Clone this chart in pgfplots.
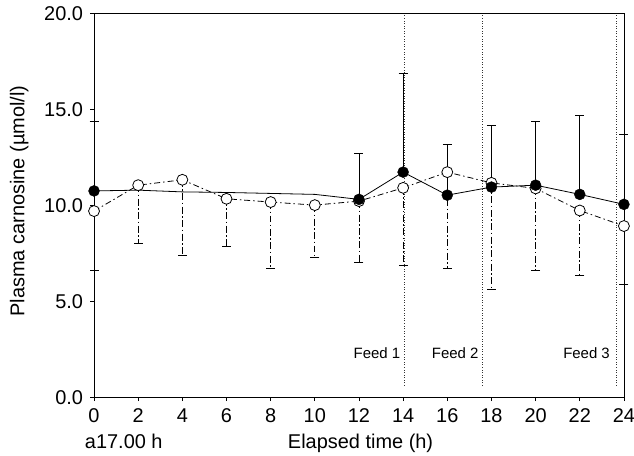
\documentclass[border=0pt]{standalone}
\usepackage{fontspec}
\setmainfont{Liberation Sans}
\usepackage{pgfplots}
\usepackage{pgfplotstable}
\pgfplotsset{compat=1.18}

% line of the filled series (unmarked points 2..10)
\pgfplotstableread{
x y
0 10.75
2 10.79
4 10.70
6 10.67
8 10.62
10 10.57
12 10.31
14 11.73
16 10.53
18 10.95
20 11.05
22 10.57
24 10.05
}\filledline

% filled circles, upper error
\pgfplotstableread{
x y ep
0 10.75 3.63
12 10.31 2.37
14 11.73 5.16
16 10.53 2.64
18 10.95 3.24
20 11.05 3.33
22 10.57 4.12
24 10.05 3.64
}\filledpts

% open circles, lower error
\pgfplotstableread{
x y em
0 9.70 3.07
2 11.05 3.05
4 11.33 3.95
6 10.34 2.46
8 10.17 3.48
10 10.01 2.70
12 10.22 3.22
14 10.91 4.02
16 11.73 5.04
18 11.17 5.56
20 10.88 4.26
22 9.73 3.36
24 8.92 3.03
}\openpts

\begin{document}
\begin{tikzpicture}[font=\fontsize{20bp}{24bp}\selectfont]
\path[use as bounding box] (-94.3bp,-58.7bp) rectangle (541.5bp,398.3bp);
\begin{axis}[
    scale only axis,
    width=531.4bp, height=384.8bp,
    xmin=0, xmax=24, ymin=0, ymax=20,
    xtick={0,2,...,24},
    ytick={0,5,...,20},
    tick pos=left,
    tick align=outside,
    major tick length=4bp,
    axis line style={line width=0.8bp},
    tick style={line width=0.8bp, black},
    clip=false,
    /pgf/number format/assume math mode=true,
    tick label style={font=\fontsize{20bp}{24bp}\selectfont},
    yticklabel style={/pgf/number format/.cd, fixed, fixed zerofill, precision=1, /tikz/.cd, xshift=-3.5bp},
    xticklabel style={yshift=-4bp},
    xlabel={Elapsed time (h)},
    ylabel={Plasma carnosine (µmol/l)},
    xlabel style={at={(axis description cs:0.503,-0.134)}, anchor=base},
    ylabel style={at={(axis description cs:-0.141,0.511)}, anchor=center},
  ]
  % feed markers
  \addplot[dotted, line width=0.6bp, black!80] coordinates {(14.03,0.6) (14.03,20)};
  \addplot[dotted, line width=0.6bp, black!80] coordinates {(17.57,0.6) (17.57,20)};
  \addplot[dotted, line width=0.6bp, black!80] coordinates {(23.67,0.6) (23.67,20)};

  % lines
  \addplot[black, line width=0.8bp, dash pattern=on 6bp off 3bp on 1.5bp off 3bp, no marks] table[x=x, y=y] {\openpts};
  \addplot[black, line width=0.8bp, solid, no marks] table[x=x, y=y] {\filledline};

  % open circles with lower error bars
  \addplot[only marks, mark=*, mark size=5.5bp, mark options={fill=white, draw=black, line width=0.8bp, solid},
    error bars/.cd, y dir=minus, y explicit,
    error bar style={line width=0.8bp, black, dash pattern=on 7bp off 2.5bp on 1.5bp off 2.5bp},
    error mark options={solid, rotate=90, line width=0.8bp, mark size=4.5bp}]
    table[x=x, y=y, y error minus=em] {\openpts};

  % filled circles with upper error bars
  \addplot[only marks, mark=*, mark size=5.5bp, mark options={fill=black, draw=black, solid},
    error bars/.cd, y dir=plus, y explicit,
    error bar style={line width=0.8bp, black, solid},
    error mark options={solid, rotate=90, line width=0.8bp, mark size=4.5bp}]
    table[x=x, y=y, y error plus=ep] {\filledpts};

  \node[anchor=east, inner sep=0, font=\fontsize{15bp}{18bp}\selectfont] at (axis cs:13.88,2.3) {Feed 1};
  \node[anchor=east, inner sep=0, font=\fontsize{15bp}{18bp}\selectfont] at (axis cs:17.42,2.3) {Feed 2};
  \node[anchor=east, inner sep=0, font=\fontsize{15bp}{18bp}\selectfont] at (axis cs:23.37,2.3) {Feed 3};
  \node[anchor=base west, inner sep=0] at (axis description cs:-0.0175,-0.1325) {a17.00 h};
\end{axis}
\end{tikzpicture}
\end{document}
